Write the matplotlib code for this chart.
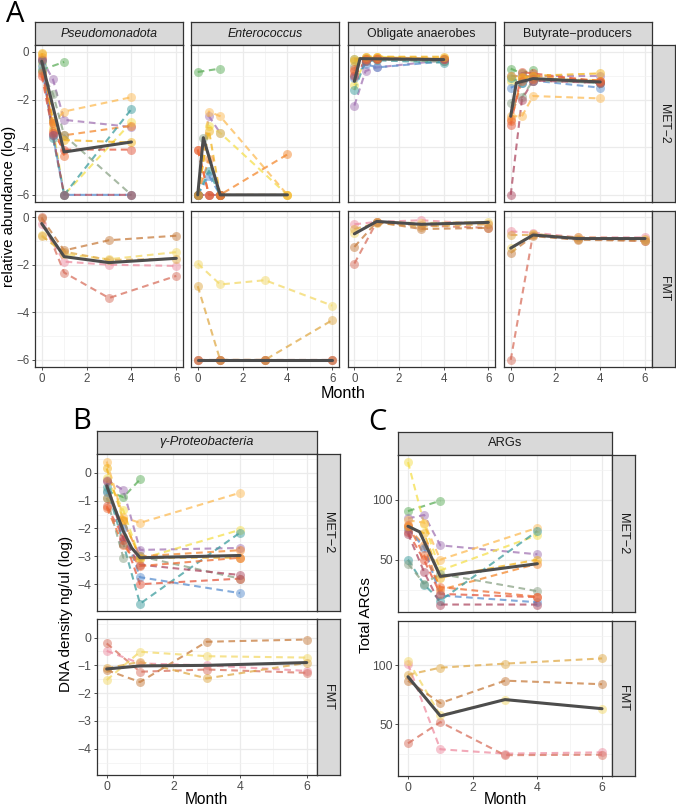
import numpy as np
import matplotlib
matplotlib.use("Agg")
import matplotlib.pyplot as plt
from matplotlib.ticker import FixedLocator

nan = np.nan
W, H = 676, 806

# ---------------- data ----------------
met_times = [0, 0.25, 0.5, 1, 4]
fmt_times = [0, 1, 3, 6]
met_colors = ["#5DAE5A", "#A274B3", "#F5DF4D", "#FDBB55", "#F4892F", "#5A8FCF",
              "#3D9D9E", "#8BA386", "#E4573D", "#AE4A62", "#F2B31D", "#EE6E35"]
fmt_colors = ["#EE8EA2", "#D8705E", "#F3D968", "#E0AA48", "#C77C3E"]

pseudo_met = [
    [-0.75, nan, nan, -0.42, nan],
    [-0.3, nan, -1.15, -2.85, -3.15],
    [-0.5, nan, -3.2, -6, -2.95],
    [-0.1, nan, -3.0, -2.5, -1.9],
    [-0.2, nan, -3.3, -3.5, -3.1],
    [-0.6, nan, -3.5, -6, -6],
    [-0.4, nan, -3.6, -6, -2.4],
    [-0.8, nan, -1.75, -3.5, -6],
    [-1.0, nan, -3.4, -4.1, -4.1],
    [-0.35, nan, -3.5, -6, -6],
    [-0.05, nan, -2.9, -3.7, -3.8],
    [-0.9, nan, -3.0, -4.35, nan],
]
pseudo_met_mean_t = [0, 1, 4]
pseudo_met_mean = [-0.39, -4.2, -3.78]

entero_met = [
    [-0.84, nan, nan, -0.7, nan],
    [-6, nan, -2.7, -3.4, nan],
    [-6, nan, -3.1, -3.4, -6],
    [-6, nan, -2.5, -2.7, -6],
    [-6, nan, -4.5, -6, -4.3],
    [-6, nan, -5.2, -6, nan],
    [-6, nan, -5.0, -6, nan],
    [-6, -3.6, nan, -6, nan],
    [-4.1, nan, -6, -6, nan],
    [-6, nan, -6, -6, nan],
    [-6, nan, -3.3, -6, -6],
    [-4.1, nan, -6, -6, nan],
]
entero_met_mean_t = [0, 0.25, 1, 4]
entero_met_mean = [-6, -3.6, -6, -6]

oblig_met = [
    [-0.3, nan, -0.25, -0.3, -0.4],
    [-2.25, nan, -0.8, -0.65, -0.35],
    [-1.4, nan, -0.3, -0.2, -0.3],
    [-0.3, nan, -0.2, -0.2, -0.25],
    [-0.95, nan, -0.35, -0.3, -0.3],
    [-1.1, nan, -0.5, -0.65, -0.4],
    [-1.6, nan, -0.4, -0.35, -0.45],
    [-0.6, nan, -0.3, -0.3, -0.4],
    [-0.8, nan, -0.3, -0.25, -0.3],
    [-1.0, nan, -0.4, -0.3, -0.3],
    [-0.4, nan, -0.2, -0.2, -0.2],
    [-0.7, nan, -0.3, -0.3, nan],
]
oblig_met_mean_t = [0, 0.25, 4]
oblig_met_mean = [-1.23, -0.28, -0.32]

butyr_met = [
    [-0.7, nan, -0.9, -0.75, nan],
    [-1.0, nan, -1.0, -1.0, -1.0],
    [-1.2, nan, -1.1, -1.1, -1.2],
    [-2.7, nan, -2.7, -1.85, -1.95],
    [-2.8, nan, -1.1, -1.0, -1.2],
    [-1.5, nan, -1.3, -1.2, -1.5],
    [-1.1, nan, -1.3, -1.1, -1.3],
    [-2.15, nan, -1.9, -1.2, -1.3],
    [-3.05, nan, -0.85, -0.9, -1.25],
    [-6, nan, -2.0, -1.2, -1.3],
    [-1.0, nan, -1.05, -1.0, -0.9],
    [-2.9, nan, -1.2, -1.15, -1.2],
]
butyr_met_mean_t = [0, 0.25, 1, 4]
butyr_met_mean = [-2.7, -1.3, -1.12, -1.26]

pseudo_fmt = [
    [-0.3, -1.87, -2.0, -2.05],
    [0.0, -2.33, -3.4, -2.47],
    [-0.76, -1.55, -1.77, -1.47],
    [-0.8, -1.45, -1.8, -1.75],
    [-0.05, -1.4, -0.97, -0.78],
]
pseudo_fmt_mean = [-0.27, -1.66, -1.91, -1.73]

entero_fmt = [
    [-6, -6, -6, -6],
    [-6, -6, -6, -6],
    [-1.95, -2.83, -2.65, -3.72],
    [-2.9, -6, -6, -4.33],
    [-6, -6, -6, -6],
]
entero_fmt_mean = [-6, -6, -6, -6]

oblig_fmt = [
    [-0.3, -0.2, -0.13, -0.3],
    [-1.95, -0.2, -0.35, -0.45],
    [-0.68, -0.2, -0.25, -0.2],
    [-0.5, -0.25, -0.4, -0.3],
    [-1.25, -0.2, -0.5, -0.45],
]
oblig_fmt_mean = [-0.7, -0.18, -0.3, -0.22]

butyr_fmt = [
    [-0.6, -0.65, -0.85, -0.85],
    [-6, -0.7, -0.9, -1.0],
    [-1.3, -0.7, -0.9, -0.95],
    [-0.75, -0.75, -0.85, -0.9],
    [-1.5, -0.8, -0.95, -1.0],
]
butyr_fmt_mean = [-1.3, -0.75, -0.9, -0.9]

gamma_met = [
    [-0.65, nan, -0.88, -0.24, nan],
    [-0.25, nan, -0.63, -2.77, -2.7],
    [-0.2, nan, -1.35, -3.1, -2.05],
    [0.4, nan, -1.6, -1.8, -0.72],
    [-0.9, nan, -1.75, -3.0, -2.78],
    [-0.7, nan, -2.0, -3.75, -4.32],
    [-0.5, nan, -2.55, -4.7, -2.15],
    [-0.9, nan, -3.05, -3.0, -3.8],
    [-1.2, nan, -2.3, -4.0, -3.8],
    [-0.3, nan, -2.4, -3.3, -3.67],
    [0.15, nan, -1.7, -3.05, -3.05],
    [-1.25, nan, -2.6, -3.35, -3.05],
]
gamma_met_mean_t = [0, 0.25, 0.5, 0.75, 1, 4]
gamma_met_mean = [-0.47, -1.3, -2.1, -2.7, -3.05, -2.97]

gamma_fmt = [
    [-0.48, -0.93, -1.0, -1.2],
    [-0.21, -1.23, -1.15, -1.27],
    [-1.53, -0.51, -0.67, -0.72],
    [-1.11, -0.87, -1.47, -0.91],
    [-1.17, -1.6, -0.15, -0.07],
]
gamma_fmt_mean = [-1.13, -1.02, -1.0, -0.9]

args_met = [
    [90.7, nan, nan, 99.4, nan],
    [84.6, nan, 87.4, 62, 54.5],
    [131.7, nan, 80, 41, 70.5],
    [83, nan, 81, 50, 76.7],
    [77, nan, 62, 24.7, 46.6],
    [76, nan, 60, 20, 14.3],
    [50, nan, 29, 15.7, 74],
    [46.6, nan, 30, 38, 23.6],
    [73, nan, 49.4, 21.3, 18.6],
    [71.9, nan, 39.6, 12.4, 12.4],
    [78, nan, 72, 35, 50],
    [79, nan, 53.7, 27, 19],
]
args_met_mean_t = [0, 0.36, 1, 4]
args_met_mean = [78, 73.3, 36, 46.6]

args_fmt = [
    [101, 29, 25.3, 26.4],
    [34, 52, 24, 24.4],
    [104, 57.8, 71, 63.3],
    [92, 98, 101.4, 105.8],
    [87, 68, 87, 84],
]
args_fmt_mean = [90.3, 57.2, 71, 63.3]

# ---------------- drawing ----------------
plt.rcParams['font.family'] = ['Liberation Sans', 'DejaVu Sans']
fig = plt.figure(figsize=(W / 100, H / 100), dpi=100)

STRIP_FC = "#D9D9D9"
BORDER = "#333333"


def add_ax(x0, y0, x1, y1):
    return fig.add_axes([x0 / W, 1 - y1 / H, (x1 - x0) / W, (y1 - y0) / H])


def style(ax, xlim, ylim, yticks, yminor, show_x, show_y, fs):
    ax.set_xlim(*xlim)
    ax.set_ylim(*ylim)
    ax.xaxis.set_major_locator(FixedLocator([0, 2, 4, 6]))
    ax.xaxis.set_minor_locator(FixedLocator([1, 3, 5]))
    ax.yaxis.set_major_locator(FixedLocator(yticks))
    ax.yaxis.set_minor_locator(FixedLocator(yminor))
    ax.grid(which='major', color='#EBEBEB', lw=0.9)
    ax.grid(which='minor', color='#F2F2F2', lw=0.5)
    ax.set_axisbelow(True)
    for s in ax.spines.values():
        s.set_color(BORDER)
        s.set_linewidth(0.9)
    ax.tick_params(which='major', length=2.5, width=0.6, color=BORDER,
                   labelcolor='#4D4D4D', labelsize=fs, pad=1.5)
    ax.tick_params(which='minor', length=0)
    if not show_x:
        ax.tick_params(axis='x', which='major', length=0, labelbottom=False)
    if not show_y:
        ax.tick_params(axis='y', which='major', length=0, labelleft=False)


def strip_top(x0, x1, y0, y1, text, italic, fs=8.9):
    a = add_ax(x0, y0, x1, y1)
    a.set_facecolor(STRIP_FC)
    a.set_xticks([]); a.set_yticks([])
    for s in a.spines.values():
        s.set_color(BORDER); s.set_linewidth(0.9)
    a.text(0.5, 0.5, text, ha='center', va='center', fontsize=fs,
           color='#1A1A1A', style='italic' if italic else 'normal',
           transform=a.transAxes)


def strip_right(x0, x1, y0, y1, text, fs=8.8):
    a = add_ax(x0, y0, x1, y1)
    a.set_facecolor(STRIP_FC)
    a.set_xticks([]); a.set_yticks([])
    for s in a.spines.values():
        s.set_color(BORDER); s.set_linewidth(0.9)
    a.text(0.5, 0.5, text, ha='center', va='center', fontsize=fs,
           color='#1A1A1A', rotation=-90, transform=a.transAxes)


def draw(ax, times, series, colors, mean_t, mean_v, ms=42):
    t = np.array(times, float)
    for vals, c in zip(series, colors):
        v = np.array(vals, float)
        m = ~np.isnan(v)
        ax.plot(t[m], v[m], ls=(0, (3.2, 2.2)), color=c, lw=1.5, alpha=0.75, zorder=2)
        ax.scatter(t[m], v[m], s=ms, color=c, alpha=0.5, lw=0, zorder=3)
    ax.plot(mean_t, mean_v, color='#4D4D4D', lw=2.2, zorder=5,
            solid_capstyle='round', solid_joinstyle='round')


# ---- Panel A ----
colsA = [(35, 183), (191, 339), (347.7, 495), (504, 651.7)]
rowsA = [(45.3, 202), (210.5, 367)]
namesA = [("Pseudomonadota", True), ("Enterococcus", True),
          ("Obligate anaerobes", False), ("Butyrate\u2212producers", False)]
met_A = [(pseudo_met, pseudo_met_mean_t, pseudo_met_mean),
         (entero_met, entero_met_mean_t, entero_met_mean),
         (oblig_met, oblig_met_mean_t, oblig_met_mean),
         (butyr_met, butyr_met_mean_t, butyr_met_mean)]
fmt_A = [(pseudo_fmt, pseudo_fmt_mean), (entero_fmt, entero_fmt_mean),
         (oblig_fmt, oblig_fmt_mean), (butyr_fmt, butyr_fmt_mean)]
ylimA = (-6.3, 0.28)
for i, (x0, x1) in enumerate(colsA):
    strip_top(x0, x1, 22.3, 45.3, namesA[i][0], namesA[i][1])
    ax = add_ax(x0, rowsA[0][0], x1, rowsA[0][1])
    style(ax, (-0.3, 6.3), ylimA, [0, -2, -4, -6], [-1, -3, -5], False, i == 0, 8.3)
    s, mt, mv = met_A[i]
    draw(ax, met_times, s, met_colors, mt, mv)
    ax = add_ax(x0, rowsA[1][0], x1, rowsA[1][1])
    style(ax, (-0.3, 6.3), ylimA, [0, -2, -4, -6], [-1, -3, -5], True, i == 0, 8.3)
    s, mv = fmt_A[i]
    draw(ax, fmt_times, s, fmt_colors, fmt_times, mv)
strip_right(652, 675, rowsA[0][0], rowsA[0][1], "MET\u22122")
strip_right(652, 675, rowsA[1][0], rowsA[1][1], "FMT")

fig.text(6 / W, 1 - 14 / H, "A", fontsize=21, family='Open Sans', va='center', ha='left')
fig.text(9 / W, 1 - 206 / H, "relative abundance (log)", rotation=90,
         ha='center', va='center', fontsize=10.8)
fig.text(343.5 / W, 1 - 393 / H, "Month", ha='center', va='center', fontsize=11.6)

# ---- Panel B ----
bx0, bx1 = 96.7, 316.7
strip_top(bx0, bx1, 430.7, 454, "\u03b3-Proteobacteria", True, fs=9.3)
ax = add_ax(bx0, 454, bx1, 610.7)
style(ax, (-0.3, 6.3), (-4.95, 0.67), [0, -1, -2, -3, -4],
      [0.5, -0.5, -1.5, -2.5, -3.5, -4.5], False, True, 8.8)
draw(ax, met_times, gamma_met, met_colors, gamma_met_mean_t, gamma_met_mean)
ax = add_ax(bx0, 619, bx1, 775)
style(ax, (-0.3, 6.3), (-4.95, 0.67), [0, -1, -2, -3, -4],
      [0.5, -0.5, -1.5, -2.5, -3.5, -4.5], True, True, 8.8)
draw(ax, fmt_times, gamma_fmt, fmt_colors, fmt_times, gamma_fmt_mean)
strip_right(bx1, 340, 454, 610.7, "MET\u22122", fs=9.2)
strip_right(bx1, 340, 619, 775, "FMT", fs=9.2)
fig.text(72 / W, 1 - 422 / H, "B", fontsize=21, family='Open Sans', va='center', ha='left')
fig.text(66 / W, 1 - 614 / H, "DNA density ng/ul (log)", rotation=90,
         ha='center', va='center', fontsize=11)
fig.text((bx0 + bx1) / 2 / W, 1 - 799 / H, "Month", ha='center', va='center', fontsize=11.2)

# ---- Panel C ----
cx0, cx1 = 398.3, 611.7
strip_top(cx0, cx1, 431.7, 455, "ARGs", False, fs=9.3)
ax = add_ax(cx0, 455, cx1, 611.7)
style(ax, (-0.3, 6.3), (6.4, 137.7), [50, 100], [25, 75, 125], False, True, 8.8)
draw(ax, met_times, args_met, met_colors, args_met_mean_t, args_met_mean)
ax = add_ax(cx0, 620.7, cx1, 776)
style(ax, (-0.3, 6.3), (6.4, 137.7), [50, 100], [25, 75, 125], True, True, 8.8)
draw(ax, fmt_times, args_fmt, fmt_colors, fmt_times, args_fmt_mean)
strip_right(cx1, 635, 455, 611.7, "MET\u22122", fs=9.2)
strip_right(cx1, 635, 620.7, 776, "FMT", fs=9.2)
fig.text(368 / W, 1 - 423 / H, "C", fontsize=21, family='Open Sans', va='center', ha='left')
fig.text(366 / W, 1 - 615 / H, "Total ARGs", rotation=90,
         ha='center', va='center', fontsize=11)
fig.text((cx0 + cx1) / 2 / W, 1 - 799 / H, "Month", ha='center', va='center', fontsize=11.2)

fig.savefig("out.png", dpi=100, facecolor='white')
